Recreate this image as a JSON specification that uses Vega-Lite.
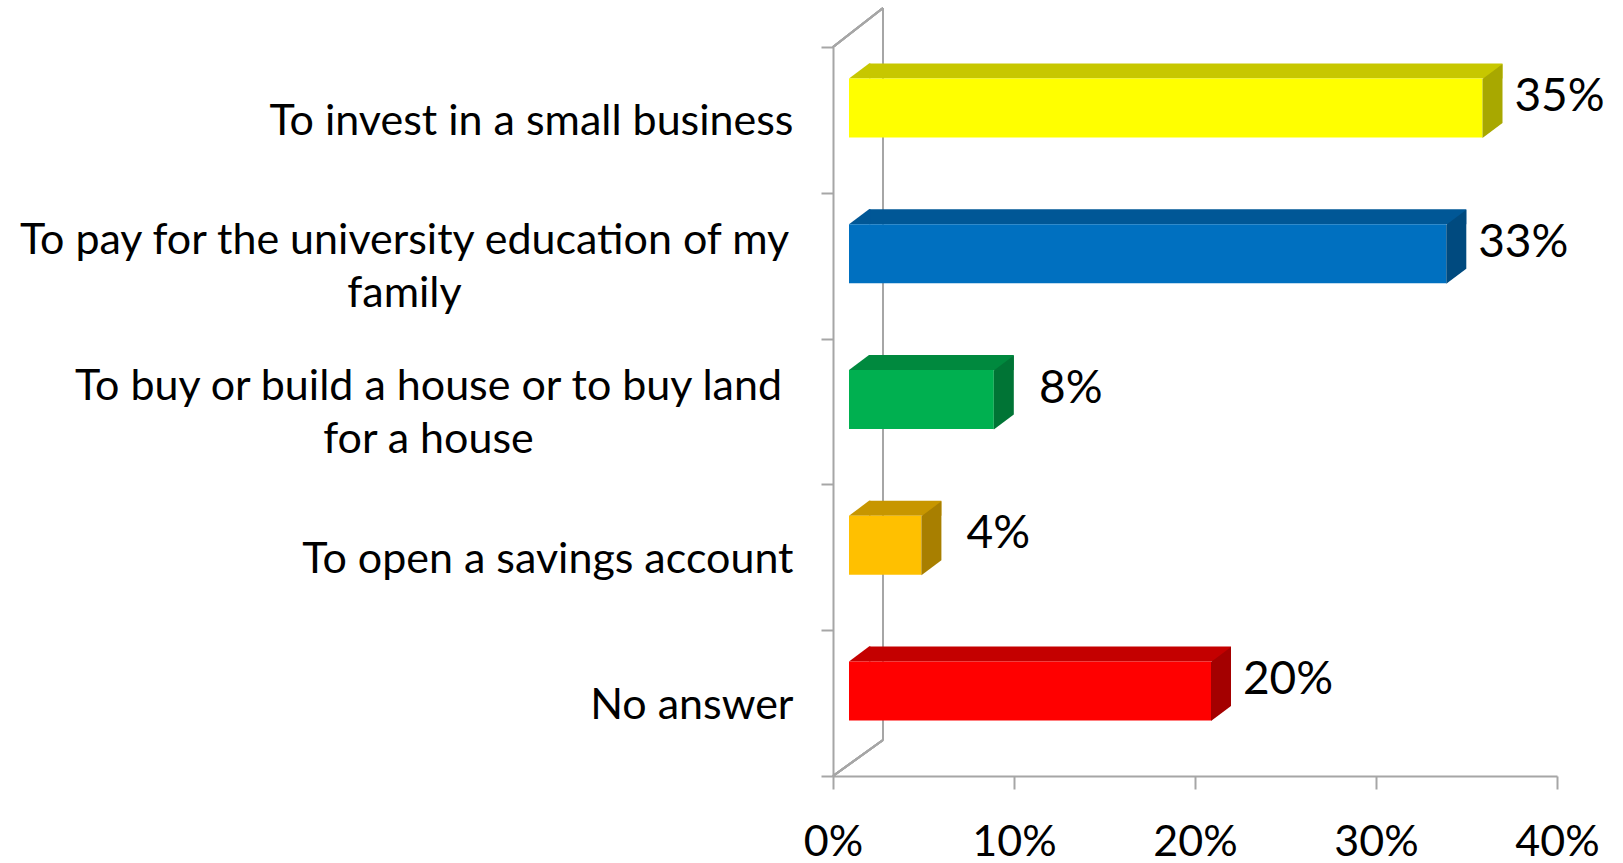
{
  "$schema": "https://vega.github.io/schema/vega-lite/v6.json",
  "autosize": "none",
  "width": 724,
  "height": 729,
  "padding": {"left": 833, "top": 47, "right": 66, "bottom": 87},
  "background": "white",
  "config": {
    "view": {"stroke": null},
    "font": "Lato",
    "axisX": {
      "title": null,
      "grid": false,
      "tickSize": 13,
      "tickColor": "#A6A6A6",
      "tickWidth": 2,
      "domainColor": "#A6A6A6",
      "domainWidth": 2,
      "labelFont": "Lato",
      "labelFontSize": 43,
      "labelColor": "black",
      "labelPadding": 32,
      "labelFlush": false
    }
  },
  "data": {
    "values": [
      {"answer": "To invest in a small business", "share": 0.35},
      {"answer": "To pay for the university education of my family", "share": 0.33},
      {"answer": "To buy or build a house or to buy land for a house", "share": 0.08},
      {"answer": "To open a savings account", "share": 0.04},
      {"answer": "No answer", "share": 0.20}
    ]
  },
  "layer": [
    {
      "mark": {"type": "rule", "color": "#A6A6A6", "strokeWidth": 2, "xOffset": 50},
      "encoding": {
        "x": {"datum": 0, "type": "quantitative", "scale": {"domain": [0, 0.4], "nice": false}, "axis": {"values": [0, 0.1, 0.2, 0.3, 0.4], "format": ".0%"}},
        "y": {"value": {"expr": "-39"}},
        "y2": {"value": {"expr": "height - 36"}}
      }
    },
    {
      "mark": {"type": "rule", "color": "#A6A6A6", "strokeWidth": 2, "x2Offset": 50},
      "encoding": {
        "x": {"datum": 0, "type": "quantitative", "scale": {"domain": [0, 0.4], "nice": false}, "axis": {"values": [0, 0.1, 0.2, 0.3, 0.4], "format": ".0%"}},
        "x2": {"datum": 0},
        "y": {"value": {"expr": "0"}},
        "y2": {"value": {"expr": "-39"}}
      }
    },
    {
      "mark": {"type": "rule", "color": "#A6A6A6", "strokeWidth": 2, "x2Offset": 50},
      "encoding": {
        "x": {"datum": 0, "type": "quantitative", "scale": {"domain": [0, 0.4], "nice": false}, "axis": {"values": [0, 0.1, 0.2, 0.3, 0.4], "format": ".0%"}},
        "x2": {"datum": 0},
        "y": {"value": {"expr": "height"}},
        "y2": {"value": {"expr": "height - 36"}}
      }
    },
    {
      "encoding": {
        "y": {
          "field": "answer",
          "type": "nominal",
          "sort": null,
          "scale": {"paddingInner": 0, "paddingOuter": 0},
          "axis": {
            "title": null,
            "tickBand": "extent",
            "tickSize": 12,
            "tickColor": "#A6A6A6",
            "tickWidth": 2,
            "domainColor": "#A6A6A6",
            "domainWidth": 2,
            "labelFont": "Lato",
            "labelFontSize": 43,
            "labelColor": "black",
            "labelLimit": 0,
            "labelLineHeight": 53,
            "labelExpr": "datum.value == 'To pay for the university education of my family' ? ['To pay for the university education of my', 'family'] : datum.value == 'To buy or build a house or to buy land for a house' ? ['To buy or build a house or to buy land', 'for a house'] : datum.value",
            "labelAlign": {
              "condition": {"test": "datum.value == 'To pay for the university education of my family' || datum.value == 'To buy or build a house or to buy land for a house'", "value": "center"},
              "value": "right"
            },
            "labelOffset": {
              "condition": {"test": "datum.value == 'To pay for the university education of my family' || datum.value == 'To buy or build a house or to buy land for a house'", "value": -25},
              "value": 2
            },
            "labelPadding": {
              "condition": [
                {"test": "datum.value == 'To pay for the university education of my family'", "value": 417},
                {"test": "datum.value == 'To buy or build a house or to buy land for a house'", "value": 393}
              ],
              "value": 28
            }
          }
        },
        "x": {
          "field": "share",
          "type": "quantitative",
          "scale": {"domain": [0, 0.4], "nice": false},
          "axis": {"values": [0, 0.1, 0.2, 0.3, 0.4], "format": ".0%"}
        }
      },
      "layer": [
        {
          "mark": {"type": "bar", "height": 15, "xOffset": 36, "x2Offset": 36, "yOffset": -49},
          "encoding": {
            "color": {
              "field": "answer", "type": "nominal", "legend": null,
              "scale": {
                "domain": ["To invest in a small business", "To pay for the university education of my family", "To buy or build a house or to buy land for a house", "To open a savings account", "No answer"],
                "range": ["#C7C700", "#005796", "#00893E", "#C79600", "#C40000"]
              }
            }
          }
        },
        {
          "mark": {"type": "point", "filled": true, "opacity": 1, "strokeWidth": 0, "size": 400, "shape": "M-1,0.75L1,-0.75L1.15,-0.75L1.15,0.75Z", "xOffset": 26, "yOffset": -49},
          "encoding": {
            "x": {"datum": 0, "type": "quantitative", "scale": {"domain": [0, 0.4], "nice": false}, "axis": {"values": [0, 0.1, 0.2, 0.3, 0.4], "format": ".0%"}},
            "color": {
              "field": "answer", "type": "nominal", "legend": null,
              "scale": {
                "domain": ["To invest in a small business", "To pay for the university education of my family", "To buy or build a house or to buy land for a house", "To open a savings account", "No answer"],
                "range": ["#C7C700", "#005796", "#00893E", "#C79600", "#C40000"]
              }
            }
          }
        },
        {
          "mark": {"type": "bar", "height": 59, "xOffset": 16, "x2Offset": 16, "yOffset": -12},
          "encoding": {
            "color": {
              "field": "answer", "type": "nominal", "legend": null,
              "scale": {
                "domain": ["To invest in a small business", "To pay for the university education of my family", "To buy or build a house or to buy land for a house", "To open a savings account", "No answer"],
                "range": ["#FFFF00", "#0070C0", "#00B050", "#FFC000", "#FF0000"]
              }
            }
          }
        },
        {
          "mark": {"type": "point", "filled": true, "opacity": 1, "strokeWidth": 0, "size": 5476, "shape": "M-0.2703,1L0.2703,0.5946L0.2703,-1L-0.2703,-0.5946Z", "xOffset": 26, "yOffset": -19},
          "encoding": {
            "color": {
              "field": "answer", "type": "nominal", "legend": null,
              "scale": {
                "domain": ["To invest in a small business", "To pay for the university education of my family", "To buy or build a house or to buy land for a house", "To open a savings account", "No answer"],
                "range": ["#A8A800", "#004A7F", "#007435", "#A87F00", "#A40000"]
              }
            }
          }
        },
        {
          "mark": {"type": "text", "font": "Lato", "fontSize": 46, "color": "black", "align": "center", "baseline": "middle", "xOffset": 93, "yOffset": -23},
          "encoding": {
            "text": {"field": "share", "type": "quantitative", "format": ".0%"}
          }
        }
      ],
      "resolve": {"scale": {"color": "independent"}}
    }
  ]
}
